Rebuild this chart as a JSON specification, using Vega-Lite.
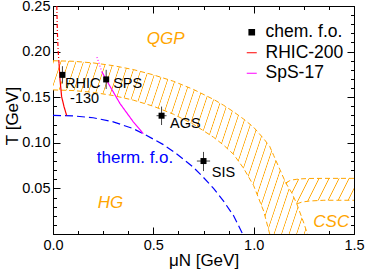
{
"$schema": "https://vega.github.io/schema/vega-lite/v6.json",
"width": 301, "height": 228,
"autosize": {"type": "none"},
"padding": {"left": 53, "top": 6, "right": 11, "bottom": 40},
"background": "white",
"config": {
  "font": "Liberation Sans",
  "view": {"stroke": "black", "strokeWidth": 1},
  "axis": {"grid": false, "domainColor": "black", "tickColor": "black", "labelColor": "black", "titleColor": "black", "labelFont": "Liberation Sans", "titleFont": "Liberation Sans", "labelFontSize": 14.5, "titleFontSize": 17, "titleFontWeight": "normal", "labelOverlap": false, "labelFlush": false, "tickWidth": 1, "domainWidth": 1},
  "legend": {"orient": "none", "legendX": 190, "legendY": 17.5, "title": null, "padding": 0, "labelFont": "Liberation Sans", "labelFontSize": 17.5, "labelColor": "black", "labelOffset": 5, "rowPadding": 1.5, "symbolSize": 100}
},
"datasets": {
  "qgp": [
    {"mu":0,"lo":0.158,"hi":0.190},{"mu":0.1,"lo":0.1573,"hi":0.1894},{"mu":0.2,"lo":0.1553,"hi":0.1876},{"mu":0.3,"lo":0.1518,"hi":0.1846},{"mu":0.4,"lo":0.1468,"hi":0.1803},{"mu":0.5,"lo":0.1401,"hi":0.1745},{"mu":0.6,"lo":0.1314,"hi":0.1675},{"mu":0.7,"lo":0.1203,"hi":0.1585},{"mu":0.8,"lo":0.1061,"hi":0.1476},{"mu":0.85,"lo":0.0975,"hi":0.1412},{"mu":0.9,"lo":0.0873,"hi":0.134},{"mu":0.95,"lo":0.072,"hi":0.126},{"mu":1.0,"lo":0.053,"hi":0.117},{"mu":1.05,"lo":0.025,"hi":0.1045},{"mu":1.08,"lo":0,"hi":0.096},{"mu":1.10,"lo":0,"hi":0.086},{"mu":1.13,"lo":0,"hi":0.071},{"mu":1.16,"lo":0,"hi":0.056},{"mu":1.19,"lo":0,"hi":0.045},{"mu":1.215,"lo":0,"hi":0.033},{"mu":1.25,"lo":0,"hi":0.012},{"mu":1.268,"lo":0,"hi":0}
  ],
  "csc": [
    {"mu":1.16,"lo":0.056,"hi":0.056},{"mu":1.18,"lo":0.0487,"hi":0.0585},{"mu":1.19,"lo":0.045,"hi":0.0592},{"mu":1.215,"lo":0.033,"hi":0.060},{"mu":1.24,"lo":0.035,"hi":0.0605},{"mu":1.28,"lo":0.0362,"hi":0.0609},{"mu":1.35,"lo":0.037,"hi":0.061},{"mu":1.5,"lo":0.037,"hi":0.061}
  ],
  "thermal": [
    {"mu":0,"T":0.130},{"mu":0.1,"T":0.1295},{"mu":0.2,"T":0.1275},{"mu":0.3,"T":0.123},{"mu":0.4,"T":0.1155},{"mu":0.45,"T":0.110},{"mu":0.5,"T":0.104},{"mu":0.55,"T":0.098},{"mu":0.6,"T":0.0905},{"mu":0.65,"T":0.082},{"mu":0.7,"T":0.073},{"mu":0.75,"T":0.062},{"mu":0.8,"T":0.050},{"mu":0.85,"T":0.036},{"mu":0.9,"T":0.020},{"mu":0.945,"T":0.0}
  ],
  "curves": [
    {"series":"RHIC-200","part":"dashdot","mu":0.019,"T":0.25},{"series":"RHIC-200","part":"dashdot","mu":0.022,"T":0.22},{"series":"RHIC-200","part":"dashdot","mu":0.026,"T":0.20},{"series":"RHIC-200","part":"dashdot","mu":0.03,"T":0.187},
    {"series":"RHIC-200","part":"solid","mu":0.03,"T":0.187},{"series":"RHIC-200","part":"solid","mu":0.035,"T":0.169},{"series":"RHIC-200","part":"solid","mu":0.043,"T":0.1506},{"series":"RHIC-200","part":"solid","mu":0.055,"T":0.1396},{"series":"RHIC-200","part":"solid","mu":0.068,"T":0.130},
    {"series":"SpS-17","part":"dotted","mu":0.219,"T":0.194},{"series":"SpS-17","part":"dotted","mu":0.231,"T":0.186},{"series":"SpS-17","part":"dotted","mu":0.243,"T":0.178},
    {"series":"SpS-17","part":"solid","mu":0.243,"T":0.178},{"series":"SpS-17","part":"solid","mu":0.276,"T":0.165},{"series":"SpS-17","part":"solid","mu":0.334,"T":0.143},{"series":"SpS-17","part":"solid","mu":0.40,"T":0.123},{"series":"SpS-17","part":"solid","mu":0.45,"T":0.110}
  ],
  "points": [
    {"name":"RHIC-130","series":"chem. f.o.","mu":0.047,"T":0.1745,"muLo":0.042,"muHi":0.052,"TLo":0.165,"THi":0.184},
    {"name":"SPS","series":"chem. f.o.","mu":0.265,"T":0.1695,"muLo":0.255,"muHi":0.275,"TLo":0.159,"THi":0.180},
    {"name":"AGS","series":"chem. f.o.","mu":0.541,"T":0.1297,"muLo":0.516,"muHi":0.566,"TLo":0.1195,"THi":0.1397},
    {"name":"SIS","series":"chem. f.o.","mu":0.750,"T":0.080,"muLo":0.717,"muHi":0.783,"TLo":0.069,"THi":0.090}
  ],
  "blackLabels": [
    {"text":"RHIC","mu":0.06,"T":0.1598},{"text":"-130","mu":0.085,"T":0.1433},{"text":"SPS","mu":0.30,"T":0.160},{"text":"AGS","mu":0.583,"T":0.116},{"text":"SIS","mu":0.791,"T":0.0628}
  ],
  "orangeLabels": [
    {"text":"QGP","mu":0.467,"T":0.2085},{"text":"HG","mu":0.223,"T":0.0282},{"text":"CSC","mu":1.297,"T":0.008}
  ],
  "blueLabels": [
    {"text":"therm. f.o.","mu":0.218,"T":0.0775}
  ]
},
"resolve": {"axis": {"x": "independent", "y": "independent"}},
"layer": [
  {
    "data": {"name": "qgp"},
    "mark": {"type": "area", "orient": "vertical", "stroke": null, "fill": {"gradient": "linear", "x1": 0, "y1": 0, "x2": 1.17, "y2": 0.265, "stops": [
      {"offset":0,"color":"#fff"},{"offset":0.0025,"color":"#ffa500"},{"offset":0.005,"color":"#fff"},
      {"offset":0.024,"color":"#fff"},{"offset":0.0265,"color":"#ffa500"},{"offset":0.029,"color":"#fff"},
      {"offset":0.048,"color":"#fff"},{"offset":0.0505,"color":"#ffa500"},{"offset":0.053,"color":"#fff"},
      {"offset":0.072,"color":"#fff"},{"offset":0.0745,"color":"#ffa500"},{"offset":0.077,"color":"#fff"},
      {"offset":0.096,"color":"#fff"},{"offset":0.0985,"color":"#ffa500"},{"offset":0.101,"color":"#fff"},
      {"offset":0.12,"color":"#fff"},{"offset":0.1225,"color":"#ffa500"},{"offset":0.125,"color":"#fff"},
      {"offset":0.144,"color":"#fff"},{"offset":0.1465,"color":"#ffa500"},{"offset":0.149,"color":"#fff"},
      {"offset":0.168,"color":"#fff"},{"offset":0.1705,"color":"#ffa500"},{"offset":0.173,"color":"#fff"},
      {"offset":0.192,"color":"#fff"},{"offset":0.1945,"color":"#ffa500"},{"offset":0.197,"color":"#fff"},
      {"offset":0.216,"color":"#fff"},{"offset":0.2185,"color":"#ffa500"},{"offset":0.221,"color":"#fff"},
      {"offset":0.24,"color":"#fff"},{"offset":0.2425,"color":"#ffa500"},{"offset":0.245,"color":"#fff"},
      {"offset":0.264,"color":"#fff"},{"offset":0.2665,"color":"#ffa500"},{"offset":0.269,"color":"#fff"},
      {"offset":0.288,"color":"#fff"},{"offset":0.2905,"color":"#ffa500"},{"offset":0.293,"color":"#fff"},
      {"offset":0.312,"color":"#fff"},{"offset":0.3145,"color":"#ffa500"},{"offset":0.317,"color":"#fff"},
      {"offset":0.336,"color":"#fff"},{"offset":0.3385,"color":"#ffa500"},{"offset":0.341,"color":"#fff"},
      {"offset":0.36,"color":"#fff"},{"offset":0.3625,"color":"#ffa500"},{"offset":0.365,"color":"#fff"},
      {"offset":0.384,"color":"#fff"},{"offset":0.3865,"color":"#ffa500"},{"offset":0.389,"color":"#fff"},
      {"offset":0.408,"color":"#fff"},{"offset":0.4105,"color":"#ffa500"},{"offset":0.413,"color":"#fff"},
      {"offset":0.432,"color":"#fff"},{"offset":0.4345,"color":"#ffa500"},{"offset":0.437,"color":"#fff"},
      {"offset":0.456,"color":"#fff"},{"offset":0.4585,"color":"#ffa500"},{"offset":0.461,"color":"#fff"},
      {"offset":0.48,"color":"#fff"},{"offset":0.4825,"color":"#ffa500"},{"offset":0.485,"color":"#fff"},
      {"offset":0.504,"color":"#fff"},{"offset":0.5065,"color":"#ffa500"},{"offset":0.509,"color":"#fff"},
      {"offset":0.528,"color":"#fff"},{"offset":0.5305,"color":"#ffa500"},{"offset":0.533,"color":"#fff"},
      {"offset":0.552,"color":"#fff"},{"offset":0.5545,"color":"#ffa500"},{"offset":0.557,"color":"#fff"},
      {"offset":0.576,"color":"#fff"},{"offset":0.5785,"color":"#ffa500"},{"offset":0.581,"color":"#fff"},
      {"offset":0.6,"color":"#fff"},{"offset":0.6025,"color":"#ffa500"},{"offset":0.605,"color":"#fff"},
      {"offset":0.624,"color":"#fff"},{"offset":0.6265,"color":"#ffa500"},{"offset":0.629,"color":"#fff"},
      {"offset":0.648,"color":"#fff"},{"offset":0.6505,"color":"#ffa500"},{"offset":0.653,"color":"#fff"},
      {"offset":0.672,"color":"#fff"},{"offset":0.6745,"color":"#ffa500"},{"offset":0.677,"color":"#fff"},
      {"offset":0.696,"color":"#fff"},{"offset":0.6985,"color":"#ffa500"},{"offset":0.701,"color":"#fff"},
      {"offset":0.72,"color":"#fff"},{"offset":0.7225,"color":"#ffa500"},{"offset":0.725,"color":"#fff"},
      {"offset":0.744,"color":"#fff"},{"offset":0.7465,"color":"#ffa500"},{"offset":0.749,"color":"#fff"},
      {"offset":0.768,"color":"#fff"},{"offset":0.7705,"color":"#ffa500"},{"offset":0.773,"color":"#fff"},
      {"offset":0.792,"color":"#fff"},{"offset":0.7945,"color":"#ffa500"},{"offset":0.797,"color":"#fff"},
      {"offset":0.816,"color":"#fff"},{"offset":0.8185,"color":"#ffa500"},{"offset":0.821,"color":"#fff"},
      {"offset":0.84,"color":"#fff"},{"offset":0.8425,"color":"#ffa500"},{"offset":0.845,"color":"#fff"},
      {"offset":0.864,"color":"#fff"},{"offset":0.8665,"color":"#ffa500"},{"offset":0.869,"color":"#fff"},
      {"offset":0.888,"color":"#fff"},{"offset":0.8905,"color":"#ffa500"},{"offset":0.893,"color":"#fff"},
      {"offset":0.912,"color":"#fff"},{"offset":0.9145,"color":"#ffa500"},{"offset":0.917,"color":"#fff"},
      {"offset":0.936,"color":"#fff"},{"offset":0.9385,"color":"#ffa500"},{"offset":0.941,"color":"#fff"},
      {"offset":0.96,"color":"#fff"},{"offset":0.9625,"color":"#ffa500"},{"offset":0.965,"color":"#fff"},
      {"offset":0.984,"color":"#fff"},{"offset":0.9865,"color":"#ffa500"},{"offset":0.989,"color":"#fff"}
    ]}},
    "encoding": {
      "x": {"field": "mu", "type": "quantitative", "scale": {"domain": [0, 1.5], "nice": false, "zero": false},
        "axis": {"orient": "bottom", "values": [0,0.125,0.25,0.375,0.5,0.625,0.75,0.875,1,1.125,1.25,1.375,1.5],
          "tickSize": {"condition": {"test": "datum.value % 0.5 === 0", "value": -7}, "value": -3.5},
          "labelExpr": "datum.value % 0.5 === 0 ? format(datum.value, '.1f') : ''",
          "labelPadding": 11, "title": "μN [GeV]", "titleX": 150.5, "titleY": 31, "titleAlign": "center", "titleBaseline": "alphabetic", "titleAngle": 0}},
      "y": {"field": "lo", "type": "quantitative", "scale": {"domain": [0, 0.25], "nice": false, "zero": false},
        "axis": {"orient": "left", "values": [0,0.01,0.02,0.03,0.04,0.05,0.06,0.07,0.08,0.09,0.1,0.11,0.12,0.13,0.14,0.15,0.16,0.17,0.18,0.19,0.2,0.21,0.22,0.23,0.24,0.25],
          "tickSize": {"condition": {"test": "round(datum.value*100) % 5 === 0", "value": -7}, "value": -3.5},
          "labelExpr": "round(datum.value*100) % 5 === 0 && datum.value > 0 ? format(datum.value, '.2f') : ''",
          "labelPadding": 10, "title": "T [GeV]", "titleX": -36, "titleY": 109.5, "titleAngle": 270, "titleAlign": "center", "titleBaseline": "alphabetic"}},
      "y2": {"field": "hi"}
    }
  },
  {
    "data": {"name": "csc"},
    "mark": {"type": "area", "orient": "vertical", "stroke": null, "fill": {"gradient": "linear", "x1": 0, "y1": 0, "x2": 1.147, "y2": 0.2145, "stops": [
      {"offset":0.03,"color":"#fff"},{"offset":0.041,"color":"#ffa500"},{"offset":0.052,"color":"#fff"},
      {"offset":0.1535,"color":"#fff"},{"offset":0.1645,"color":"#ffa500"},{"offset":0.1755,"color":"#fff"},
      {"offset":0.277,"color":"#fff"},{"offset":0.288,"color":"#ffa500"},{"offset":0.299,"color":"#fff"},
      {"offset":0.4005,"color":"#fff"},{"offset":0.4115,"color":"#ffa500"},{"offset":0.4225,"color":"#fff"},
      {"offset":0.524,"color":"#fff"},{"offset":0.535,"color":"#ffa500"},{"offset":0.546,"color":"#fff"},
      {"offset":0.6475,"color":"#fff"},{"offset":0.6585,"color":"#ffa500"},{"offset":0.6695,"color":"#fff"},
      {"offset":0.771,"color":"#fff"},{"offset":0.782,"color":"#ffa500"},{"offset":0.793,"color":"#fff"},
      {"offset":0.8945,"color":"#fff"},{"offset":0.9055,"color":"#ffa500"},{"offset":0.9165,"color":"#fff"}
    ]}},
    "encoding": {
      "x": {"field": "mu", "type": "quantitative", "scale": {"domain": [0, 1.5], "nice": false, "zero": false},
        "axis": {"orient": "top", "values": [0,0.125,0.25,0.375,0.5,0.625,0.75,0.875,1,1.125,1.25,1.375,1.5],
          "tickSize": {"condition": {"test": "datum.value % 0.5 === 0", "value": -7}, "value": -3.5},
          "labels": false, "title": null}},
      "y": {"field": "lo", "type": "quantitative", "scale": {"domain": [0, 0.25], "nice": false, "zero": false},
        "axis": {"orient": "right", "values": [0,0.01,0.02,0.03,0.04,0.05,0.06,0.07,0.08,0.09,0.1,0.11,0.12,0.13,0.14,0.15,0.16,0.17,0.18,0.19,0.2,0.21,0.22,0.23,0.24,0.25],
          "tickSize": {"condition": {"test": "round(datum.value*100) % 5 === 0", "value": -7}, "value": -3.5},
          "labels": false, "title": null}},
      "y2": {"field": "hi"}
    }
  },
  {
    "data": {"name": "qgp"},
    "mark": {"type": "line", "color": "#ffa500", "strokeWidth": 1, "strokeDash": [5, 3], "clip": true},
    "encoding": {
      "x": {"field": "mu", "type": "quantitative", "scale": {"domain": [0, 1.5], "nice": false, "zero": false}, "axis": null},
      "y": {"field": "hi", "type": "quantitative", "scale": {"domain": [0, 0.25], "nice": false, "zero": false}, "axis": null}
    }
  },
  {
    "data": {"name": "qgp"},
    "transform": [{"filter": "datum.mu <= 1.08"}],
    "mark": {"type": "line", "color": "#ffa500", "strokeWidth": 1, "strokeDash": [5, 3], "clip": true},
    "encoding": {
      "x": {"field": "mu", "type": "quantitative", "scale": {"domain": [0, 1.5], "nice": false, "zero": false}, "axis": null},
      "y": {"field": "lo", "type": "quantitative", "scale": {"domain": [0, 0.25], "nice": false, "zero": false}, "axis": null}
    }
  },
  {
    "data": {"name": "csc"},
    "mark": {"type": "line", "color": "#ffa500", "strokeWidth": 1, "strokeDash": [5, 3], "clip": true},
    "encoding": {
      "x": {"field": "mu", "type": "quantitative", "scale": {"domain": [0, 1.5], "nice": false, "zero": false}, "axis": null},
      "y": {"field": "hi", "type": "quantitative", "scale": {"domain": [0, 0.25], "nice": false, "zero": false}, "axis": null}
    }
  },
  {
    "data": {"name": "csc"},
    "transform": [{"filter": "datum.mu >= 1.215"}],
    "mark": {"type": "line", "color": "#ffa500", "strokeWidth": 1, "strokeDash": [5, 3], "clip": true},
    "encoding": {
      "x": {"field": "mu", "type": "quantitative", "scale": {"domain": [0, 1.5], "nice": false, "zero": false}, "axis": null},
      "y": {"field": "lo", "type": "quantitative", "scale": {"domain": [0, 0.25], "nice": false, "zero": false}, "axis": null}
    }
  },
  {
    "data": {"name": "thermal"},
    "mark": {"type": "line", "color": "#0000ff", "strokeWidth": 1.2, "strokeDash": [8, 4], "clip": true},
    "encoding": {
      "x": {"field": "mu", "type": "quantitative", "scale": {"domain": [0, 1.5], "nice": false, "zero": false}, "axis": null},
      "y": {"field": "T", "type": "quantitative", "scale": {"domain": [0, 0.25], "nice": false, "zero": false}, "axis": null}
    }
  },
  {
    "data": {"name": "curves"},
    "mark": {"type": "line", "strokeWidth": 1.2, "clip": true},
    "encoding": {
      "x": {"field": "mu", "type": "quantitative", "scale": {"domain": [0, 1.5], "nice": false, "zero": false}, "axis": null},
      "y": {"field": "T", "type": "quantitative", "scale": {"domain": [0, 0.25], "nice": false, "zero": false}, "axis": null},
      "color": {"field": "series", "type": "nominal", "scale": {"domain": ["chem. f.o.", "RHIC-200", "SpS-17"], "range": ["#000000", "#ff0000", "#ff00ff"]},
        "legend": {"orient": "none", "legendX": 190, "legendY": 17.5, "title": null,
          "encode": {"symbols": {"update": {
            "shape": {"signal": "datum.value === 'chem. f.o.' ? 'square' : 'stroke'"},
            "size": {"signal": "datum.value === 'chem. f.o.' ? 30 : 100"},
            "fill": {"signal": "datum.value === 'chem. f.o.' ? '#000000' : 'transparent'"},
            "stroke": {"signal": "datum.value === 'chem. f.o.' ? '#000000' : (datum.value === 'RHIC-200' ? '#ff0000' : '#ff00ff')"},
            "strokeWidth": {"value": 1.2},
            "strokeDash": {"value": [1, 0]},
            "opacity": {"value": 1}
          }}}}},
      "strokeDash": {"field": "part", "type": "nominal", "scale": {"domain": ["solid", "dashdot", "dotted"], "range": [[1, 0], [4, 2, 1, 2], [1, 2]]}, "legend": null},
      "detail": {"field": "series"}
    }
  },
  {
    "data": {"name": "points"},
    "mark": {"type": "rule", "color": "#444444", "strokeWidth": 1},
    "encoding": {
      "x": {"field": "mu", "type": "quantitative", "scale": {"domain": [0, 1.5], "nice": false, "zero": false}, "axis": null},
      "y": {"field": "TLo", "type": "quantitative", "scale": {"domain": [0, 0.25], "nice": false, "zero": false}, "axis": null},
      "y2": {"field": "THi"}
    }
  },
  {
    "data": {"name": "points"},
    "mark": {"type": "rule", "color": "#444444", "strokeWidth": 1},
    "encoding": {
      "x": {"field": "muLo", "type": "quantitative", "scale": {"domain": [0, 1.5], "nice": false, "zero": false}, "axis": null},
      "x2": {"field": "muHi"},
      "y": {"field": "T", "type": "quantitative", "scale": {"domain": [0, 0.25], "nice": false, "zero": false}, "axis": null}
    }
  },
  {
    "data": {"name": "points"},
    "mark": {"type": "square", "size": 36, "filled": true, "opacity": 1},
    "encoding": {
      "x": {"field": "mu", "type": "quantitative", "scale": {"domain": [0, 1.5], "nice": false, "zero": false}, "axis": null},
      "y": {"field": "T", "type": "quantitative", "scale": {"domain": [0, 0.25], "nice": false, "zero": false}, "axis": null},
      "color": {"field": "series", "type": "nominal", "scale": {"domain": ["chem. f.o.", "RHIC-200", "SpS-17"], "range": ["#000000", "#ff0000", "#ff00ff"]},
        "legend": {"orient": "none", "legendX": 190, "legendY": 17.5, "title": null,
          "encode": {"symbols": {"update": {
            "shape": {"signal": "datum.value === 'chem. f.o.' ? 'square' : 'stroke'"},
            "size": {"signal": "datum.value === 'chem. f.o.' ? 30 : 100"},
            "fill": {"signal": "datum.value === 'chem. f.o.' ? '#000000' : 'transparent'"},
            "stroke": {"signal": "datum.value === 'chem. f.o.' ? '#000000' : (datum.value === 'RHIC-200' ? '#ff0000' : '#ff00ff')"},
            "strokeWidth": {"value": 1.2},
            "strokeDash": {"value": [1, 0]},
            "opacity": {"value": 1}
          }}}}}
    }
  },
  {
    "data": {"name": "blackLabels"},
    "mark": {"type": "text", "align": "left", "baseline": "alphabetic", "fontSize": 14.5, "color": "black", "font": "Liberation Sans"},
    "encoding": {
      "x": {"field": "mu", "type": "quantitative", "scale": {"domain": [0, 1.5], "nice": false, "zero": false}, "axis": null},
      "y": {"field": "T", "type": "quantitative", "scale": {"domain": [0, 0.25], "nice": false, "zero": false}, "axis": null},
      "text": {"field": "text"}
    }
  },
  {
    "data": {"name": "orangeLabels"},
    "mark": {"type": "text", "align": "left", "baseline": "alphabetic", "fontSize": 17, "fontStyle": "italic", "color": "#ffa500", "font": "Liberation Sans"},
    "encoding": {
      "x": {"field": "mu", "type": "quantitative", "scale": {"domain": [0, 1.5], "nice": false, "zero": false}, "axis": null},
      "y": {"field": "T", "type": "quantitative", "scale": {"domain": [0, 0.25], "nice": false, "zero": false}, "axis": null},
      "text": {"field": "text"}
    }
  },
  {
    "data": {"name": "blueLabels"},
    "mark": {"type": "text", "align": "left", "baseline": "alphabetic", "fontSize": 17, "color": "#0000ff", "font": "Liberation Sans"},
    "encoding": {
      "x": {"field": "mu", "type": "quantitative", "scale": {"domain": [0, 1.5], "nice": false, "zero": false}, "axis": null},
      "y": {"field": "T", "type": "quantitative", "scale": {"domain": [0, 0.25], "nice": false, "zero": false}, "axis": null},
      "text": {"field": "text"}
    }
  }
]
}
